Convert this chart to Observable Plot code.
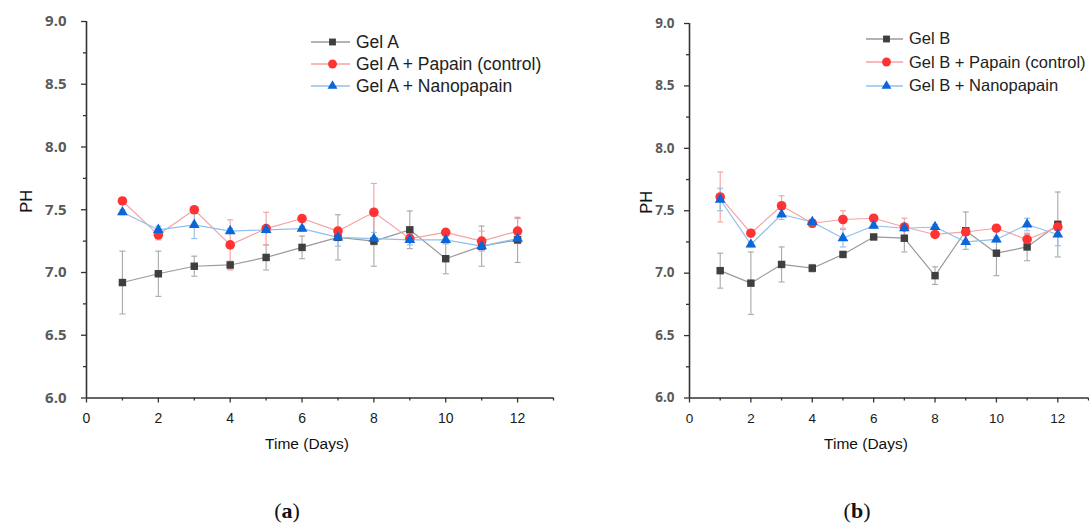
<!DOCTYPE html>
<html><head><meta charset="utf-8">
<script src="https://cdn.jsdelivr.net/npm/d3@7"></script>
<script src="https://cdn.jsdelivr.net/npm/@observablehq/plot@0.6"></script>
<style>
body{margin:0;background:#fff;}
#wrap{position:relative;width:1089px;height:525px;overflow:hidden;font-family:"Liberation Sans",Arial,sans-serif;background:#fff;}
.panel{position:absolute;top:0;}
.legend{position:absolute;color:#222;}
.legend div{display:flex;align-items:center;white-space:nowrap;}
.legend svg{margin-right:6px;flex:none;}
.cap{position:absolute;top:498px;font-family:"Liberation Serif",serif;font-size:22px;color:#111;transform:translateX(-50%);}
</style></head><body><div id="wrap"></div>
<script>
// ---- data ----
const days = [1,2,3,4,5,6,7,8,9,10,11,12];
const xMajor = [0,2,4,6,8,10,12];
const xMinor = [1,3,5,7,9,11,13];
const yMajor = [6.0,6.5,7.0,7.5,8.0,8.5,9.0];
const yMinor = [6.25,6.75,7.25,7.75,8.25,8.75];

const namesA = ["Gel A", "Gel A + Papain (control)", "Gel A + Nanopapain"];
const gelA       = [6.92, 6.99, 7.05, 7.06, 7.12, 7.20, 7.28, 7.25, 7.34, 7.11, 7.21, 7.26];
const gelAErr    = [0.25, 0.18, 0.08, 0.03, 0.10, 0.09, 0.18, 0.20, 0.15, 0.12, 0.16, 0.18];
const papainA    = [7.57, 7.30, 7.50, 7.22, 7.35, 7.43, 7.33, 7.48, 7.27, 7.32, 7.25, 7.33];
const papainAErr = [0.02, 0.04, 0.02, 0.20, 0.13, 0.02, 0.03, 0.23, 0.03, 0.02, 0.08, 0.10];
const nanoA      = [7.48, 7.34, 7.38, 7.33, 7.34, 7.35, 7.28, 7.27, 7.26, 7.26, 7.21, 7.27];
const nanoAErr   = [0.02, 0.03, 0.11, 0.02, 0.02, 0.02, 0.07, 0.05, 0.04, 0.03, 0.03, 0.03];

const namesB = ["Gel B", "Gel B + Papain (control)", "Gel B + Nanopapain"];
const gelB       = [7.02, 6.92, 7.07, 7.04, 7.15, 7.29, 7.28, 6.98, 7.34, 7.16, 7.21, 7.39];
const gelBErr    = [0.14, 0.25, 0.14, 0.03, 0.02, 0.02, 0.11, 0.07, 0.15, 0.18, 0.11, 0.26];
const papainB    = [7.61, 7.32, 7.54, 7.40, 7.43, 7.44, 7.37, 7.31, 7.33, 7.36, 7.27, 7.37];
const papainBErr = [0.20, 0.02, 0.08, 0.03, 0.07, 0.02, 0.07, 0.02, 0.02, 0.02, 0.04, 0.05];
const nanoB      = [7.59, 7.23, 7.47, 7.41, 7.28, 7.38, 7.36, 7.37, 7.25, 7.27, 7.39, 7.31];
const nanoBErr   = [0.09, 0.02, 0.04, 0.02, 0.07, 0.02, 0.02, 0.02, 0.06, 0.02, 0.05, 0.09];

// ---- styles ----
const styles = [
  {symbol: "square",   r: 4.2, fill: "#3f3f3f", line: "#9a9a9a", err: "#a8a8a8"},
  {symbol: "circle",   r: 4.8, fill: "#ff3333", line: "#f5a3a3", err: "#f3a0a0"},
  {symbol: "triangle", r: 4.0, fill: "#0a66d9", line: "#8fc1ec", err: "#8dbde9"}
];
const capSym = {draw(ctx, size){ const w = Math.sqrt(size); ctx.moveTo(-w/2, 0); ctx.lineTo(w/2, 0); }};

function buildSeries(names, vals, errs) {
  return names.map((name, k) => ({name, style: styles[k],
    rows: days.map((d, i) => ({day: d, v: vals[k][i], e: errs[k][i]}))}));
}

function panel(cfg) {
  const marks = [];
  for (const s of cfg.series) {
    marks.push(Plot.ruleX(s.rows, {x: "day", y1: d => d.v - d.e, y2: d => d.v + d.e, stroke: s.style.err, strokeWidth: 1.1}));
    marks.push(Plot.dot(s.rows, {x: "day", y: d => d.v + d.e, symbol: capSym, r: 3.4, stroke: s.style.err, fill: "none", strokeWidth: 1.1}));
    marks.push(Plot.dot(s.rows, {x: "day", y: d => d.v - d.e, symbol: capSym, r: 3.4, stroke: s.style.err, fill: "none", strokeWidth: 1.1}));
  }
  for (const s of cfg.series) {
    marks.push(Plot.line(s.rows, {x: "day", y: "v", stroke: s.style.line, strokeWidth: 1.2}));
  }
  for (const s of cfg.series) {
    marks.push(Plot.dot(s.rows, {x: "day", y: "v", symbol: s.style.symbol, r: s.style.r, fill: s.style.fill, stroke: "none"}));
  }
  marks.push(
    Plot.axisY(yMajor, {tickSize: 5, tickPadding: cfg.yPad, tickFormat: d3.format(".1f"), fontWeight: "bold", fill: "#5a5a5a", stroke: "#333", strokeWidth: 1.3, fontSize: cfg.yFont, fontFamily: "Open Sans", label: null}),
    Plot.axisY(yMinor, {tickSize: 3, fill: "none", stroke: "#333", strokeWidth: 1.3, label: null}),
    Plot.axisX(xMajor, {tickSize: 5, tickPadding: 10, fill: "#1a1a1a", stroke: "#333", strokeWidth: 1.3, fontSize: cfg.xFont, label: null}),
    Plot.axisX(xMinor, {tickSize: 3, fill: "none", stroke: "#333", strokeWidth: 1.3, label: null}),
    Plot.ruleX([0], {stroke: "#333", strokeWidth: 1.6}),
    Plot.ruleY([6], {stroke: "#333", strokeWidth: 1.6}),
    Plot.text(["PH"], {text: d => d, frameAnchor: "left", dx: cfg.phDx, dy: 3, rotate: -90, fontSize: 16.5, fill: "#111"}),
    Plot.text(["Time (Days)"], {text: d => d, frameAnchor: "bottom", dx: cfg.timeDx, dy: 51, fontSize: 15.5, fill: "#111"})
  );
  return Plot.plot({
    width: cfg.width, height: 470,
    marginLeft: cfg.marginLeft, marginRight: cfg.marginRight, marginTop: cfg.marginTop, marginBottom: cfg.marginBottom,
    x: {domain: [0, 13], axis: null},
    y: {domain: [6, 9], axis: null},
    style: {fontFamily: "Liberation Sans, Arial, sans-serif", background: "transparent", overflow: "visible"},
    marks
  });
}

function legend(series, left, top, rowH, lineW, fontSize) {
  const div = document.createElement("div");
  div.className = "legend";
  div.style.left = left + "px"; div.style.top = top + "px"; div.style.fontSize = fontSize + "px";
  for (const s of series) {
    const row = document.createElement("div");
    row.style.height = rowH + "px";
    const svg = d3.create("svg").attr("width", lineW).attr("height", 12);
    svg.append("line").attr("x1", 0).attr("x2", lineW).attr("y1", 6).attr("y2", 6).attr("stroke", s.style.line).attr("stroke-width", 1.3);
    svg.append("path").attr("transform", `translate(${lineW / 2 + 2},6)`)
      .attr("d", d3.symbol(s.style.symbol === "square" ? d3.symbolSquare : s.style.symbol === "circle" ? d3.symbolCircle : d3.symbolTriangle, Math.PI * s.style.r * s.style.r * 0.85)())
      .attr("fill", s.style.fill);
    row.appendChild(svg.node());
    const t = document.createElement("span"); t.textContent = s.name;
    row.appendChild(t);
    div.appendChild(row);
  }
  return div;
}

const wrap = document.getElementById("wrap");
const seriesA = buildSeries(namesA, [gelA, papainA, nanoA], [gelAErr, papainAErr, nanoAErr]);
const seriesB = buildSeries(namesB, [gelB, papainB, nanoB], [gelBErr, papainBErr, nanoBErr]);

const pa = panel({series: seriesA, width: 560, marginLeft: 86, marginRight: 7, marginTop: 21, marginBottom: 72.5, phDx: -60, timeDx: -13, yPad: 15, yFont: 15, xFont: 14});
pa.classList.add("panel"); pa.style.left = "0px";
wrap.appendChild(pa);
const pb = panel({series: seriesB, width: 489, marginLeft: 89, marginRight: 1, marginTop: 23, marginBottom: 72.5, phDx: -43, timeDx: -23, yPad: 10, yFont: 13.5, xFont: 13.5});
pb.classList.add("panel"); pb.style.left = "600px";
wrap.appendChild(pb);

wrap.appendChild(legend(seriesA, 311, 31, 22, 39, 17.5));
wrap.appendChild(legend(seriesB, 866, 27, 23.5, 37, 16.5));

for (const [lbl, cx] of [["a", 287], ["b", 857]]) {
  const c = document.createElement("div");
  c.className = "cap"; c.style.left = cx + "px";
  c.innerHTML = `(<b>${lbl}</b>)`;
  wrap.appendChild(c);
}
</script></body></html>
